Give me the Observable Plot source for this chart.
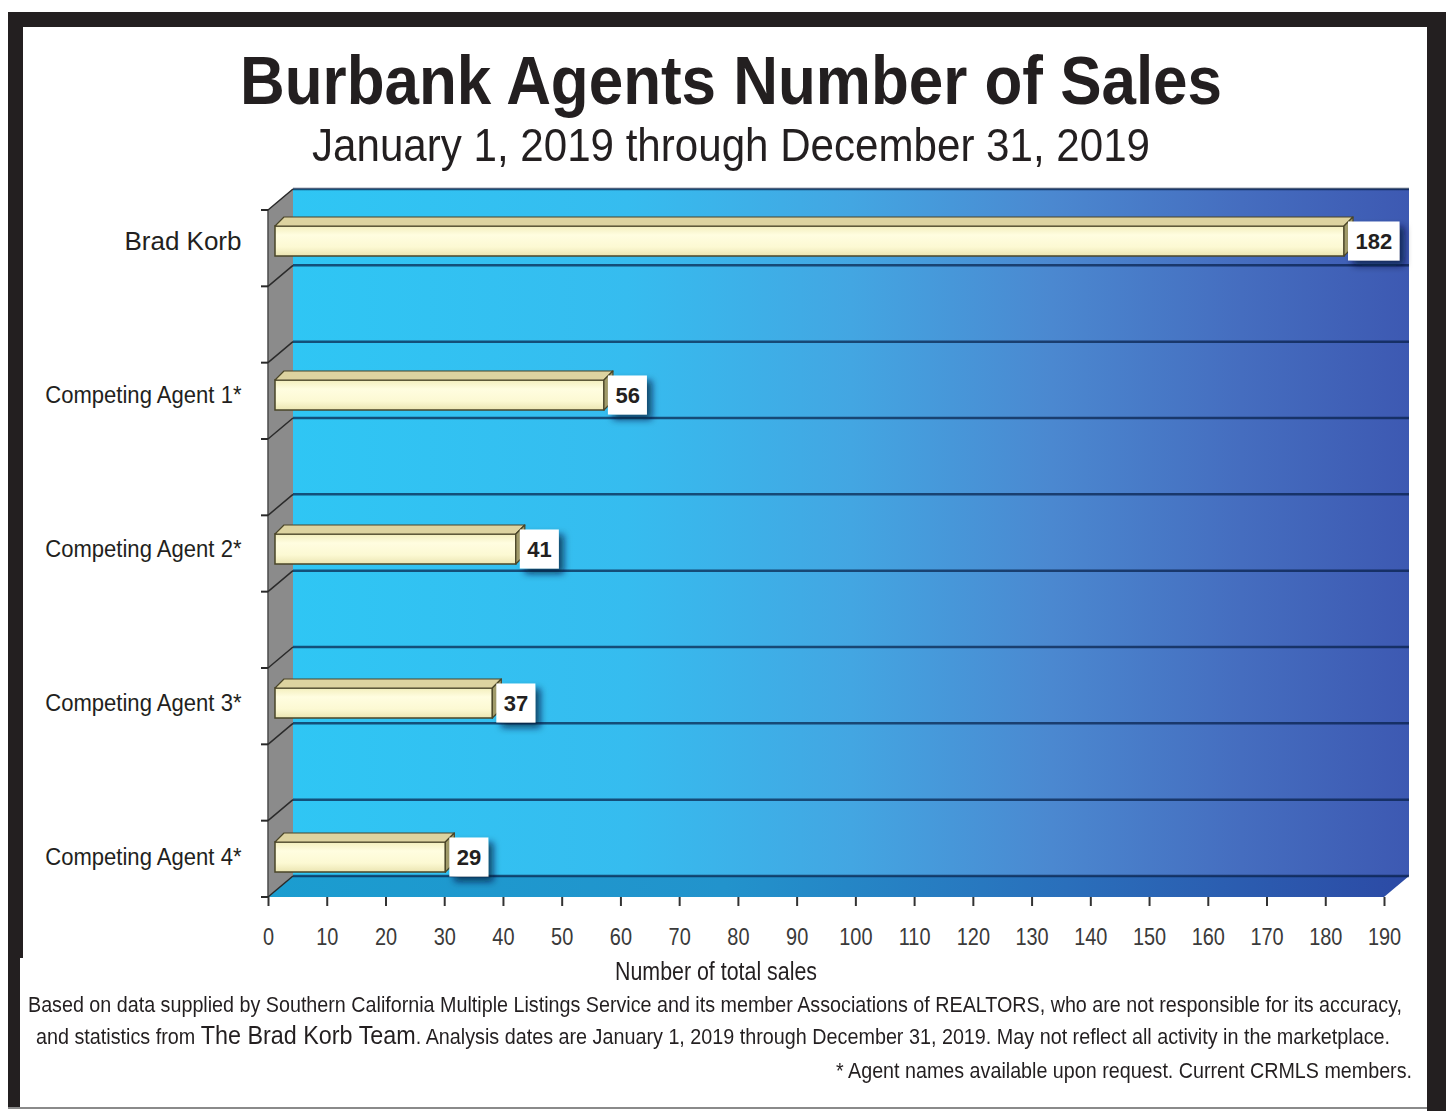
<!DOCTYPE html>
<html>
<head>
<meta charset="utf-8">
<script src="https://cdn.jsdelivr.net/npm/d3@7"></script>
<script src="https://cdn.jsdelivr.net/npm/@observablehq/plot@0.6"></script>
<style>
html, body { margin:0; padding:0; background:#fff; }
#page { position:relative; width:1454px; height:1111px; overflow:hidden;
        font-family:"Liberation Sans", Arial, Helvetica, sans-serif; color:#231f20; }
.blk { position:absolute; background:#231f20; }
.txt { position:absolute; white-space:nowrap; transform-origin:0 0; margin:0; }
.big { font-size:26px; line-height:0; }
#chart { position:absolute; left:0; top:180px; }
</style>
</head>
<body>
<div id="page">
  <div class="blk" style="left:8px;top:12px;width:1438px;height:1096px;"></div>
  <div class="blk" style="left:1427px;top:12px;width:19px;height:1099px;"></div>
  <div style="position:absolute;left:23px;top:27px;width:1404px;height:1081px;background:#fff;"></div>
  <div style="position:absolute;left:20px;top:958px;width:6px;height:150px;background:#fff;"></div>
  <div style="position:absolute;left:8px;top:1107px;width:1419px;height:2px;background:#8a8a8a;"></div>

  <div id="title" class="txt" style="font-weight:700;"></div>
  <div id="subtitle" class="txt"></div>
  <div id="chart"></div>
  <div id="xlabel" class="txt"></div>
  <div id="foot1" class="txt"></div>
  <div id="foot2" class="txt"></div>
  <div id="foot3" class="txt"></div>
</div>
<script>
// ---------- data ----------
const agents = ["Brad Korb", "Competing Agent 1*", "Competing Agent 2*", "Competing Agent 3*", "Competing Agent 4*"];
const sales = [182, 56, 41, 37, 29];
const xTickValues = [0, 10, 20, 30, 40, 50, 60, 70, 80, 90, 100, 110, 120, 130, 140, 150, 160, 170, 180, 190];
const titleText = "Burbank Agents Number of Sales";
const subtitleText = "January 1, 2019 through December 31, 2019";
const xLabelText = "Number of total sales";
const footLine1 = "Based on data supplied by Southern California Multiple Listings Service and its member Associations of REALTORS, who are not responsible for its accuracy,";
const footLine2 = ["and statistics from ", "The Brad Korb Team", ". Analysis dates are January 1, 2019 through December 31, 2019. May not reflect all activity in the marketplace."];
const footLine3 = "* Agent names available upon request. Current CRMLS members.";

const data = agents.map((agent, i) => ({agent, sales: sales[i]}));

// ---------- 3D styling constants ----------
const depthX = 25, depthY = -21;
const barShift = 7, barDepth = 9, barHeight = 30;
const gridDivisions = 9;
const yRange = [-16, 754];
const bandStep = (yRange[1] - yRange[0]) / agents.length;
const barInset = (bandStep - barHeight) / 2;

function bandCenter(y, v) {
  const bw = typeof y.bandwidth === "function" ? y.bandwidth() : 0;
  return y(v) + bw / 2;
}

function chrome(index, scales, values, dims) {
  const {x} = scales;
  const xl = x(xTickValues[0]), xr = x(xTickValues[xTickValues.length - 1]);
  const top = dims.marginTop, bottom = dims.height - dims.marginBottom;
  const g = d3.create("svg:g");
  const defs = g.append("defs");
  const wall = defs.append("linearGradient").attr("id", "wallGrad")
    .attr("gradientUnits", "userSpaceOnUse")
    .attr("x1", xl + depthX).attr("x2", xr + depthX).attr("y1", 0).attr("y2", 0);
  [[0, "#2fc6f4"], [0.3, "#36bcef"], [0.5, "#43a6e2"], [0.68, "#4b88d0"], [0.85, "#456dbf"], [1, "#3d59b2"]]
    .forEach(([o, c]) => wall.append("stop").attr("offset", o).attr("stop-color", c));
  const floor = defs.append("linearGradient").attr("id", "floorGrad")
    .attr("gradientUnits", "userSpaceOnUse")
    .attr("x1", xl).attr("x2", xr + depthX).attr("y1", 0).attr("y2", 0);
  [[0, "#1b9dd0"], [0.4, "#2293cc"], [0.7, "#2a6fbb"], [1, "#2c4aa5"]]
    .forEach(([o, c]) => floor.append("stop").attr("offset", o).attr("stop-color", c));
  const bar = defs.append("linearGradient").attr("id", "barGrad")
    .attr("x1", 0).attr("x2", 0).attr("y1", 0).attr("y2", 1);
  [[0, "#f3eebd"], [0.3, "#fffde0"], [0.7, "#fcf9d3"], [1, "#ebe5b2"]]
    .forEach(([o, c]) => bar.append("stop").attr("offset", o).attr("stop-color", c));
  const f = defs.append("filter").attr("id", "boxShadow")
    .attr("x", "-40%").attr("y", "-40%").attr("width", "190%").attr("height", "190%");
  f.append("feDropShadow").attr("dx", 5).attr("dy", 5).attr("stdDeviation", 3.5)
    .attr("flood-color", "#061436").attr("flood-opacity", 0.7);

  // back wall
  g.append("rect").attr("x", xl + depthX).attr("y", top + depthY)
    .attr("width", xr - xl).attr("height", bottom - top).attr("fill", "url(#wallGrad)");
  // floor
  g.append("path")
    .attr("d", `M${xl},${bottom}L${xl + depthX},${bottom + depthY}L${xr + depthX},${bottom + depthY}L${xr},${bottom}Z`)
    .attr("fill", "url(#floorGrad)");
  // left wall
  g.append("path")
    .attr("d", `M${xl},${top}L${xl + depthX},${top + depthY}L${xl + depthX},${bottom + depthY}L${xl},${bottom}Z`)
    .attr("fill", "#8b8b8b");
  g.append("line").attr("x1", xl).attr("x2", xl).attr("y1", top).attr("y2", bottom)
    .attr("stroke", "#4a4a4a").attr("stroke-width", 1.5);
  // gridlines
  for (let k = 0; k <= gridDivisions; k++) {
    const yf = top + (bottom - top) * k / gridDivisions, yb = yf + depthY;
    g.append("line").attr("x1", xl + depthX).attr("x2", xr + depthX).attr("y1", yb).attr("y2", yb)
      .attr("stroke", "rgba(6,30,70,0.7)").attr("stroke-width", 2.5);
    g.append("line").attr("x1", xl).attr("x2", xl + depthX).attr("y1", yf).attr("y2", yb)
      .attr("stroke", "#2a2a2a").attr("stroke-width", 1.5);
    g.append("line").attr("x1", xl - 7).attr("x2", xl).attr("y1", yf).attr("y2", yf)
      .attr("stroke", "#2a2a2a").attr("stroke-width", 2);
  }
  return g.node();
}

function barFaces(index, scales) {
  const {x, y} = scales;
  const g = d3.create("svg:g");
  data.forEach(d => {
    const yc = bandCenter(y, d.agent);
    const yt = yc - barHeight / 2, yb = yc + barHeight / 2;
    const xl = x(0) + barShift, xr = x(d.sales) + barShift;
    g.append("path")
      .attr("d", `M${xl},${yt}L${xl + barDepth},${yt - barDepth}L${xr + barDepth},${yt - barDepth}L${xr},${yt}Z`)
      .attr("fill", "#ddd3a0").attr("stroke", "#4a4528").attr("stroke-width", 1.2).attr("stroke-linejoin", "round");
    g.append("path")
      .attr("d", `M${xr},${yt}L${xr + barDepth},${yt - barDepth}L${xr + barDepth},${yb - barDepth}L${xr},${yb}Z`)
      .attr("fill", "#a29c6b").attr("stroke", "#4a4528").attr("stroke-width", 1.2).attr("stroke-linejoin", "round");
  });
  return g.node();
}

function valueBoxes(index, scales) {
  const {x, y} = scales;
  const g = d3.create("svg:g");
  data.forEach(d => {
    const label = String(d.sales);
    const w = 14 + label.length * 12.5;
    const yc = bandCenter(y, d.agent);
    g.append("rect").attr("x", x(d.sales) + 11).attr("y", yc - 19.5)
      .attr("width", w).attr("height", 39).attr("fill", "#fff").attr("filter", "url(#boxShadow)");
  });
  return g.node();
}

const chart = Plot.plot({
  width: 1454,
  height: 775,
  marginLeft: 268,
  marginRight: 70,
  marginTop: 30,
  marginBottom: 58,
  x: {domain: [xTickValues[0], xTickValues[xTickValues.length - 1]], label: null},
  y: {type: "band", domain: agents, range: yRange, padding: 0, label: null},
  style: {fontFamily: "'Liberation Sans', Arial, sans-serif", background: "transparent", overflow: "visible"},
  marks: [
    chrome,
    Plot.barX(data, {x: "sales", y: "agent", dx: barShift, insetTop: barInset, insetBottom: barInset,
      fill: "url(#barGrad)", stroke: "#4a4528", strokeWidth: 1.5}),
    barFaces,
    valueBoxes,
    Plot.text(data, {x: "sales", y: "agent", text: d => String(d.sales), dx: 18, textAnchor: "start",
      fontWeight: "bold", fontSize: 22, fill: "#231f20"}),
    Plot.axisX(xTickValues, {tickSize: 9, tickPadding: 21, fontSize: 24, stroke: "#333", fill: "#3a3a3a",
      strokeWidth: 2, label: null}),
    Plot.axisY(agents.slice(0, 1), {tickSize: 0, tickPadding: 27, fontSize: 26, fill: "#231f20", label: null}),
    Plot.axisY(agents.slice(1), {tickSize: 0, tickPadding: 27, fontSize: 24, fill: "#231f20", label: null})
  ]
});
document.getElementById("chart").appendChild(chart);

// condense some tick labels horizontally
function squeeze(sel, factor, filter) {
  chart.querySelectorAll(sel).forEach(t => {
    const tr = t.getAttribute("transform") || "";
    if (tr.includes("translate") && (!filter || filter(t))) t.setAttribute("transform", tr + ` scale(${factor},1)`);
  });
}
squeeze('g[aria-label="x-axis tick label"] text', 0.83);
squeeze('g[aria-label="y-axis tick label"] text', 0.92, t => t.textContent !== agents[0]);

// ---------- HTML text ----------
document.getElementById("title").textContent = titleText;
document.getElementById("subtitle").textContent = subtitleText;
document.getElementById("xlabel").textContent = xLabelText;
document.getElementById("foot1").textContent = footLine1;
const f2 = document.getElementById("foot2");
f2.append(footLine2[0]);
const big = document.createElement("span"); big.className = "big"; big.textContent = footLine2[1];
f2.append(big);
f2.append(footLine2[2]);
document.getElementById("foot3").textContent = footLine3;

const specs = {
  title:    {left: 240, width: 982, baseline: 104, size: 68},
  subtitle: {left: 312, width: 838, baseline: 161, size: 46},
  xlabel:   {left: 615, width: 202, baseline: 980, size: 25},
  foot1:    {left: 28,  width: 1374, baseline: 1013, size: 22},
  foot2:    {left: 36,  width: 1354, baseline: 1045, size: 22},
  foot3:    {left: 836, width: 576, baseline: 1079, size: 22}
};
function layout() {
  for (const id in specs) {
    const el = document.getElementById(id), s = specs[id];
    el.style.fontSize = s.size + "px";
    el.style.lineHeight = s.size + "px";
    el.style.top = (s.baseline - 0.8465 * s.size) + "px";
    el.style.left = s.left + "px";
    el.style.transform = "none";
    const w = el.getBoundingClientRect().width;
    el.style.transform = `scaleX(${s.width / w})`;
  }
}
layout();
if (document.fonts && document.fonts.ready) document.fonts.ready.then(layout);
</script>
</body>
</html>
